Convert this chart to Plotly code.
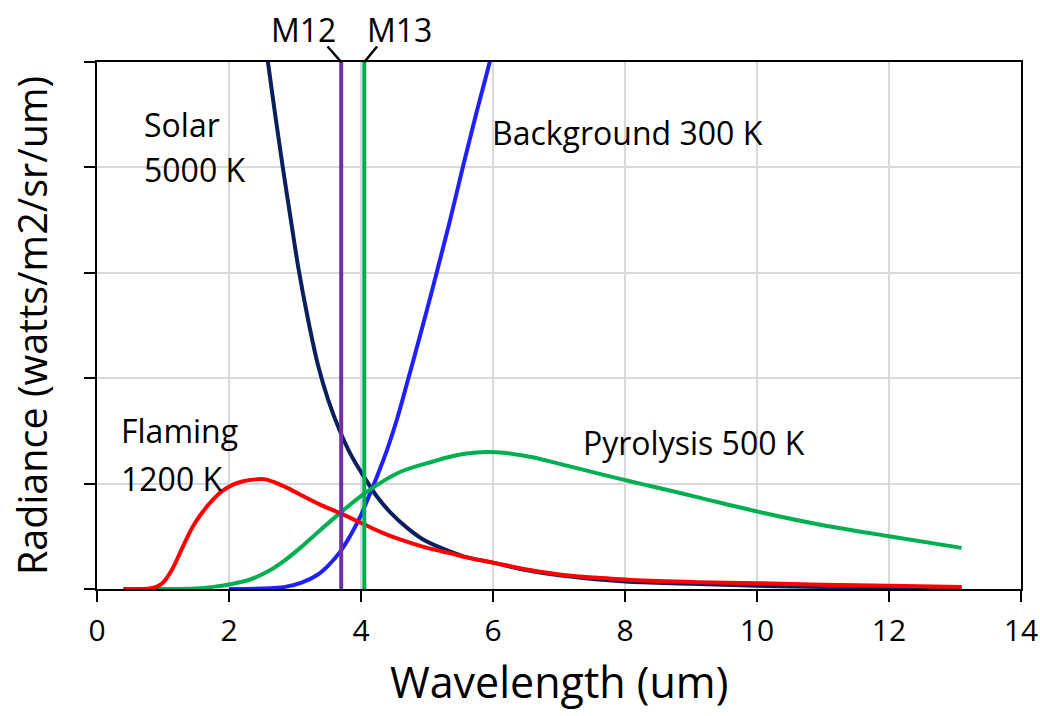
import plotly.graph_objects as go

# ---- data (arbitrary radiance units) ----
flaming_x = [0.4, 0.6, 0.8, 0.9, 1.0, 1.15, 1.3, 1.45, 1.6, 1.76, 1.9, 2.06, 2.2, 2.4, 2.55, 2.7, 2.9, 3.08, 3.38,
             3.68, 4.06, 4.3, 4.59, 5.0, 5.35, 5.6, 6.0, 6.56, 7.1, 7.5, 8.1, 9.1, 10.0, 11.0, 12.0, 13.1]
flaming_y = [0.0, 0.0, 0.005, 0.02, 0.06, 0.2, 0.4, 0.59, 0.73, 0.85, 0.93, 0.99, 1.02, 1.04, 1.04, 1.01, 0.955, 0.895, 0.80,
             0.72, 0.61, 0.54, 0.47, 0.39, 0.34, 0.30, 0.25, 0.18, 0.13, 0.11, 0.085, 0.065, 0.055, 0.04, 0.03, 0.02]

pyro_x = [0.4, 1.0, 1.5, 1.76, 2.06, 2.32, 2.6, 2.82, 3.08, 3.33, 3.68, 4.06, 4.59, 5.09, 5.35, 5.6, 5.9, 6.2, 6.6,
          7.12, 7.6, 8.12, 8.4, 9.14, 10.0, 11.0, 12.0, 13.1]
pyro_y = [0.0, 0.0, 0.005, 0.02, 0.05, 0.09, 0.17, 0.26, 0.39, 0.53, 0.72, 0.91, 1.11, 1.21, 1.255, 1.285, 1.30, 1.29, 1.25,
          1.17, 1.095, 1.015, 0.975, 0.865, 0.735, 0.605, 0.50, 0.39]

backgr_x = [2.0, 2.5, 2.85, 3.1, 3.33, 3.5, 3.68, 3.85, 4.0, 4.12, 4.25, 4.4, 4.55, 4.71, 4.85, 5.0, 5.15, 5.35,
            5.55, 5.75, 5.95, 6.1]
backgr_y = [0.0, 0.005, 0.02, 0.06, 0.13, 0.22, 0.35, 0.52, 0.70, 0.88, 1.08, 1.33, 1.62, 1.98, 2.30, 2.65, 3.01, 3.50,
            4.02, 4.52, 5.0, 5.4]

solar_x = [2.45, 2.59, 2.7, 2.82, 2.95, 3.05, 3.2, 3.35, 3.5, 3.68, 3.85, 4.06, 4.25, 4.44, 4.7, 4.94, 5.25, 5.55,
           6.0, 6.5, 7.0, 8.0, 9.0, 10.0, 11.0, 12.0, 13.1]
solar_y = [5.65, 5.0, 4.5, 3.98, 3.45, 3.05, 2.55, 2.12, 1.80, 1.50, 1.27, 1.05, 0.87, 0.73, 0.58, 0.47, 0.38, 0.31,
           0.25, 0.18, 0.13, 0.07, 0.05, 0.03, 0.02, 0.012, 0.008]

band_names = ["M12", "M13"]
band_x = [3.7, 4.05]

x_ticks = [0, 2, 4, 6, 8, 10, 12, 14]
y_ticks = [0, 1, 2, 3, 4, 5]

FONT = "Open Sans"

fig = go.Figure()

def curve(x, y, color):
    return go.Scatter(x=x, y=y, mode="lines",
                      line=dict(color=color, width=4, shape="spline", smoothing=0.8))

fig.add_trace(curve(solar_x, solar_y, "#0B1F5C"))
fig.add_trace(curve(backgr_x, backgr_y, "#1F1FFF"))
fig.add_trace(curve(pyro_x, pyro_y, "#00B050"))
fig.add_trace(curve(flaming_x, flaming_y, "#FF0000"))

band_colors = ["#7030A0", "#00B050"]
for bx, bc in zip(band_x, band_colors):
    fig.add_trace(go.Scatter(x=[bx, bx], y=[y_ticks[0], y_ticks[-1]], mode="lines",
                             line=dict(color=bc, width=4)))

label_font = dict(family=FONT, size=32, color="black")
labels = [
    ("Solar", 0.68, 4.41),
    ("5000 K", 0.68, 3.98),
    ("Background 300 K", 5.95, 4.33),
    ("Flaming", 0.33, 1.50),
    ("1200 K", 0.33, 1.05),
    ("Pyrolysis 500 K", 7.33, 1.386),
]
for txt, lx, ly in labels:
    fig.add_annotation(x=lx, y=ly, xref="x", yref="y", text=txt, showarrow=False,
                       xanchor="left", yanchor="middle", font=label_font)

# band labels with leader lines
leader = [(-15, -17), (14, -17)]
text_shift = [(-38, 33), (35, 33)]
for name, bx, (ax, ay), (xs, ys) in zip(band_names, band_x, leader, text_shift):
    fig.add_annotation(x=bx, y=y_ticks[-1], xref="x", yref="y", text="", showarrow=True,
                       arrowhead=0, arrowwidth=2.5, arrowcolor="black", ax=ax, ay=ay,
                       standoff=0, startstandoff=0)
    fig.add_annotation(x=bx, y=y_ticks[-1], xref="x", yref="y", text=name, showarrow=False,
                       xshift=xs, yshift=ys, xanchor="center", yanchor="middle", font=label_font)

# x axis title
fig.add_annotation(x=0.5, y=0, xref="paper", yref="paper", text="Wavelength (um)", showarrow=False,
                   xanchor="center", yanchor="top", yshift=-62, borderpad=0,
                   font=dict(family=FONT, size=43, color="black"))

fig.update_xaxes(range=[0, 14], tickvals=x_ticks, ticktext=[str(v) for v in x_ticks],
                 showgrid=True, gridcolor="#D9D9D9", gridwidth=2,
                 showline=True, linecolor="black", linewidth=2, mirror=True,
                 ticks="outside", ticklen=11, tickwidth=2, tickcolor="black",
                 ticklabelstandoff=3,
                 tickfont=dict(family=FONT, size=30, color="black"),
                 zeroline=False)
fig.update_yaxes(range=[0, 5], tickvals=y_ticks, showticklabels=False,
                 showgrid=True, gridcolor="#D9D9D9", gridwidth=2,
                 showline=True, linecolor="black", linewidth=2, mirror=True,
                 ticks="outside", ticklen=11, tickwidth=2, tickcolor="black",
                 zeroline=False,
                 title=dict(text="Radiance (watts/m2/sr/um)", font=dict(family=FONT, size=39.5, color="black"), standoff=24))

fig.update_layout(width=1040, height=716, margin=dict(l=97, r=19, t=62, b=127, autoexpand=False),
                  paper_bgcolor="white", plot_bgcolor="white", showlegend=False,
                  font=dict(family=FONT, color="black"))

fig.write_html("out.html")
